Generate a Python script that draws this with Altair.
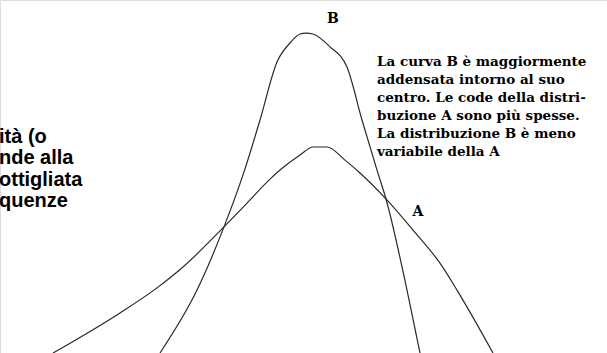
import altair as alt
import pandas as pd

# Curve B: narrow, tall distribution (x in standard units, y relative frequency)
b_x = [-2.8, -2.06, -1.52, -1.14, -0.8, -0.46, -0.2, 0.0, 0.12, 0.26, 0.6, 0.94, 1.24, 1.54, 1.72, 2.14, 2.4]
b_y = [0.0, 0.196, 0.393, 0.555, 0.726, 0.907, 0.966, 0.994, 0.997, 0.994, 0.954, 0.891, 0.726, 0.570, 0.480, 0.196, 0.0]

# Curve A: wider, flatter distribution with heavier tails
a_x = [-4.94, -3.6, -2.86, -2.34, -1.52, -1.06, -0.6, -0.4, 0.0, 0.26, 0.54, 0.9, 1.2, 1.72, 2.26, 2.8, 3.14, 3.86]
a_y = [0.0, 0.125, 0.203, 0.268, 0.393, 0.467, 0.542, 0.570, 0.617, 0.642, 0.642, 0.601, 0.561, 0.480, 0.383, 0.280, 0.196, 0.0]

curve_labels = ["B", "A"]
curve_label_x = [0.66, 2.36]
curve_label_y = [1.04, 0.44]

note_lines = [
    "La curva B è maggiormente",
    "addensata intorno al suo",
    "centro. Le code della distri-",
    "buzione A sono più spesse.",
    "La distribuzione B è meno",
    "variabile della A",
]
side_lines = ["ità (o", "nde alla", "ottigliata", "quenze"]

X_DOMAIN = [-6.0, 6.14]
Y_DOMAIN = [0.0, 1.1]

xs = alt.Scale(domain=X_DOMAIN, nice=False, zero=False)
ys = alt.Scale(domain=Y_DOMAIN, nice=False, zero=False)

curves = pd.concat([
    pd.DataFrame({"x": b_x, "y": b_y, "curve": "B", "order": range(len(b_x))}),
    pd.DataFrame({"x": a_x, "y": a_y, "curve": "A", "order": range(len(a_x))}),
])

lines = alt.Chart(curves).mark_line(
    color="#2a2a2a", strokeWidth=1.2, interpolate="monotone", clip=True
).encode(
    x=alt.X("x:Q", scale=xs, axis=None),
    y=alt.Y("y:Q", scale=ys, axis=None),
    detail="curve:N",
    order="order:Q",
)

labels = alt.Chart(pd.DataFrame({"t": curve_labels, "x": curve_label_x, "y": curve_label_y})).mark_text(
    font="DejaVu Serif", fontWeight="bold", fontSize=14, color="black", align="center", baseline="middle"
).encode(
    x=alt.X("x:Q", scale=xs, axis=None),
    y=alt.Y("y:Q", scale=ys, axis=None),
    text="t:N",
)

note = alt.Chart(pd.DataFrame({"x": [1.54], "y": [0.93]})).mark_text(
    font="DejaVu Serif", fontWeight="bold", fontSize=13.5, lineHeight=18,
    color="black", align="left", baseline="top",
).encode(
    x=alt.X("x:Q", scale=xs, axis=None),
    y=alt.Y("y:Q", scale=ys, axis=None),
    text=alt.value(note_lines),
)

side = alt.Chart(pd.DataFrame({"x": [-6.02], "y": [0.705]})).mark_text(
    font="Liberation Sans", fontWeight="bold", fontSize=20, lineHeight=21.5,
    color="black", align="left", baseline="top",
).encode(
    x=alt.X("x:Q", scale=xs, axis=None),
    y=alt.Y("y:Q", scale=ys, axis=None),
    text=alt.value(side_lines),
)

chart = alt.layer(lines, labels, note, side).properties(
    width=607, height=353, autosize="none", padding=0,
).configure_view(stroke=None).configure(background="white")

chart.save("out.html", embed_options={"renderer": "svg", "actions": False})
